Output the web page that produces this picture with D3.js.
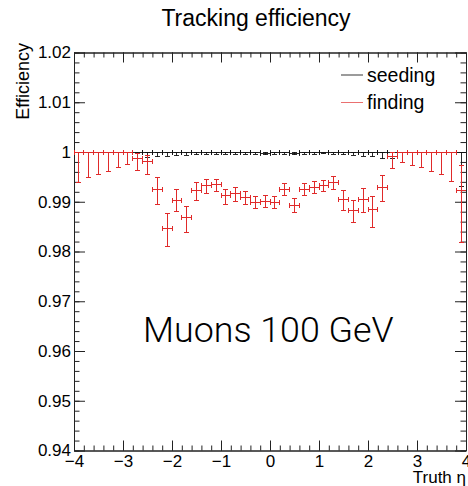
<!DOCTYPE html>
<html>
<head>
    <title>Tracking efficiency</title>
    <meta charset="UTF-8">
    <script src="https://cdn.jsdelivr.net/npm/d3@7"></script>
    <style>
        body { margin: 0; background: #fff; }
        text { font-family: "Liberation Sans", Arial, sans-serif; }
    </style>
</head>
<body>
    <script>
        // bin centres in truth eta (bin width 0.2)
        var etaBins = [-3.9, -3.7, -3.5, -3.3, -3.1, -2.9, -2.7, -2.5, -2.3, -2.1,
                       -1.9, -1.7, -1.5, -1.3, -1.1, -0.9, -0.7, -0.5, -0.3, -0.1,
                        0.1,  0.3,  0.5,  0.7,  0.9,  1.1,  1.3,  1.5,  1.7,  1.9,
                        2.1,  2.3,  2.5,  2.7,  2.9,  3.1,  3.3,  3.5,  3.7,  3.9]
        var binHalfWidth = 0.1

        // seeding
        var seedEff = [1, 1, 1, 1, 1, 1, 1, 1, 1, 1,
                       1, 1, 1, 1, 0.9999, 0.9999, 0.9998, 0.9998, 0.9998, 0.9997,
                       0.9998, 0.9998, 0.9997, 0.9998, 0.9999, 1, 1, 1, 1, 1,
                       1, 1, 1, 1, 1, 1, 1, 1, 1, 1]
        var seedErrLow = [0.0062, 0.0051, 0.0046, 0.0039, 0.0032, 0.0026, 0.0013, 0.0011, 0.0010, 0.0009,
                          0.0008, 0.0007, 0.0006, 0.0005, 0.0004, 0.0004, 0.0003, 0.0003, 0.0003, 0.0003,
                          0.0003, 0.0003, 0.0003, 0.0003, 0.0004, 0.0004, 0.0005, 0.0006, 0.0007, 0.0009,
                          0.0010, 0.0014, 0.0013, 0.0022, 0.0027, 0.0031, 0.0039, 0.0046, 0.0059, 0.0070]
        var seedErrHigh = [0, 0, 0, 0, 0, 0, 0, 0, 0, 0,
                           0, 0, 0, 0, 0.0001, 0.0001, 0.0002, 0.0002, 0.0002, 0.0002,
                           0.0002, 0.0002, 0.0002, 0.0002, 0.0001, 0, 0, 0, 0, 0,
                           0, 0, 0, 0, 0, 0, 0, 0, 0, 0]

        // finding
        var findEff = [1, 1, 1, 1, 1, 1, 0.9986, 0.9980, 0.9925, 0.9846,
                       0.9903, 0.9868, 0.9923, 0.9932, 0.9934, 0.9912, 0.9916, 0.9908, 0.9899, 0.9900,
                       0.9898, 0.9925, 0.9893, 0.9925, 0.9929, 0.9932, 0.9939, 0.9904, 0.9882, 0.9904,
                       0.9884, 0.9929, 0.9990, 1, 1, 1, 1, 1, 1, 0.9922]
        var findErrLow = [0.0062, 0.0051, 0.0046, 0.0039, 0.0032, 0.0026, 0.0024, 0.0025, 0.0030, 0.0036,
                          0.0022, 0.0029, 0.0021, 0.0015, 0.0013, 0.0017, 0.0015, 0.0014, 0.0013, 0.0012,
                          0.0012, 0.0012, 0.0015, 0.0012, 0.0013, 0.0012, 0.0014, 0.0021, 0.0024, 0.0025,
                          0.0036, 0.0029, 0.0024, 0.0022, 0.0027, 0.0031, 0.0039, 0.0046, 0.0059, 0.0103]
        var findErrHigh = [0, 0, 0, 0, 0, 0, 0.0011, 0.0013, 0.0024, 0.0031,
                           0.0021, 0.0023, 0.0015, 0.0013, 0.0011, 0.0013, 0.0013, 0.0013, 0.0012, 0.0012,
                           0.0012, 0.0011, 0.0013, 0.0011, 0.0011, 0.0011, 0.0012, 0.0019, 0.0021, 0.0022,
                           0.0027, 0.0023, 0.0010, 0, 0, 0, 0, 0, 0, 0.0051]

        var xTicks = [-4, -3, -2, -1, 0, 1, 2, 3, 4]
        var yTicks = [0.94, 0.95, 0.96, 0.97, 0.98, 0.99, 1, 1.01, 1.02]

        var W = 468, H = 486
        var fr = { left: 74, right: 466, top: 52.5, bottom: 450.5 }

        var svg = d3.select('body')
            .append('svg')
            .attr('width', W)
            .attr('height', H)

        var x = d3.scaleLinear().domain([-4, 4]).range([fr.left, fr.right])
        var y = d3.scaleLinear().domain([0.94, 1.02]).range([fr.bottom, fr.top])

        svg.append('defs').append('clipPath').attr('id', 'frame')
            .append('rect')
            .attr('x', fr.left).attr('y', fr.top)
            .attr('width', fr.right - fr.left).attr('height', fr.bottom - fr.top)

        // title
        svg.append('text')
            .attr('x', 256).attr('y', 26)
            .attr('text-anchor', 'middle')
            .style('font-size', '23px')
            .text('Tracking efficiency')

        // axes, ticks pointing inwards like ROOT
        var xMinor = d3.range(-4, 4.001, 0.2)
        var yMinor = d3.range(0.94, 1.0201, 0.002)

        function styleAxis(g) {
            g.select('.domain').attr('stroke', '#222')
            g.selectAll('.tick line').attr('stroke', '#222')
            g.selectAll('.tick text').attr('fill', '#000')
                .style('font-family', '"Liberation Sans", Arial, sans-serif')
                .style('font-size', '17px')
        }

        var fmtX = function(d){ return d < 0 ? '\u2212' + (-d) : '' + d }
        var fmtY = function(d){ return '' + (+d.toFixed(2)) }

        svg.append('g').attr('transform', 'translate(0,' + fr.bottom + ')')
            .call(d3.axisBottom(x).tickValues(xMinor).tickSize(-5).tickFormat('').tickSizeOuter(0))
            .call(styleAxis)
        svg.append('g').attr('transform', 'translate(0,' + fr.bottom + ')')
            .call(d3.axisBottom(x).tickValues(xTicks).tickSize(-10).tickPadding(4).tickFormat(fmtX).tickSizeOuter(0))
            .call(styleAxis)
        svg.append('g').attr('transform', 'translate(0,' + fr.top + ')')
            .call(d3.axisTop(x).tickValues(xMinor).tickSize(-5).tickFormat('').tickSizeOuter(0))
            .call(styleAxis)
        svg.append('g').attr('transform', 'translate(0,' + fr.top + ')')
            .call(d3.axisTop(x).tickValues(xTicks).tickSize(-10).tickFormat('').tickSizeOuter(0))
            .call(styleAxis)

        svg.append('g').attr('transform', 'translate(' + fr.left + ',0)')
            .call(d3.axisLeft(y).tickValues(yMinor).tickSize(-5.5).tickFormat('').tickSizeOuter(0))
            .call(styleAxis)
        svg.append('g').attr('transform', 'translate(' + fr.left + ',0)')
            .call(d3.axisLeft(y).tickValues(yTicks).tickSize(-11).tickPadding(3).tickFormat(fmtY).tickSizeOuter(0))
            .call(styleAxis)
        svg.append('g').attr('transform', 'translate(' + fr.right + ',0)')
            .call(d3.axisRight(y).tickValues(yMinor).tickSize(-5.5).tickFormat('').tickSizeOuter(0))
            .call(styleAxis)
        svg.append('g').attr('transform', 'translate(' + fr.right + ',0)')
            .call(d3.axisRight(y).tickValues(yTicks).tickSize(-11).tickFormat('').tickSizeOuter(0))
            .call(styleAxis)

        // axis titles
        svg.append('text')
            .attr('x', fr.right).attr('y', 483)
            .attr('text-anchor', 'end')
            .style('font-size', '17px')
            .text('Truth \u03b7')
        svg.append('text')
            .attr('transform', 'translate(29,43) rotate(-90)')
            .attr('text-anchor', 'end')
            .style('font-size', '18px')
            .text('Efficiency')

        // error-bar crosses
        function drawSeries(eff, lo, hi, colour, opacity) {
            var data = etaBins.map(function(e, i){
                return { eta: e, eff: eff[i], lo: lo[i], hi: hi[i] }
            })
            var g = svg.append('g')
                .attr('clip-path', 'url(#frame)')
                .attr('stroke', colour)
                .attr('stroke-opacity', opacity)
                .attr('stroke-width', 1)
                .attr('shape-rendering', 'crispEdges')
                .attr('fill', 'none')

            var pts = g.selectAll('g')
                .data(data)
                .enter()
                .append('g')

            pts.append('line')
                .attr('x1', function(d){ return x(d.eta - binHalfWidth) })
                .attr('x2', function(d){ return x(d.eta + binHalfWidth) })
                .attr('y1', function(d){ return y(d.eff) })
                .attr('y2', function(d){ return y(d.eff) })
            pts.append('line')
                .attr('x1', function(d){ return x(d.eta) })
                .attr('x2', function(d){ return x(d.eta) })
                .attr('y1', function(d){ return y(d.eff + d.hi) })
                .attr('y2', function(d){ return y(d.eff - d.lo) })
            // caps on the vertical bar
            pts.append('path')
                .attr('d', function(d){
                    var cx = x(d.eta), c = 2.5
                    return 'M' + (cx - c) + ',' + y(d.eff - d.lo) + 'H' + (cx + c) +
                           'M' + (cx - c) + ',' + y(d.eff + d.hi) + 'H' + (cx + c)
                })
            // caps on the horizontal bar
            pts.append('path')
                .attr('d', function(d){
                    var cy = y(d.eff), c = 2.5
                    return 'M' + x(d.eta - binHalfWidth) + ',' + (cy - c) + 'V' + (cy + c) +
                           'M' + x(d.eta + binHalfWidth) + ',' + (cy - c) + 'V' + (cy + c)
                })
        }

        drawSeries(seedEff, seedErrLow, seedErrHigh, '#111', 0.9)
        drawSeries(findEff, findErrLow, findErrHigh, '#e02a2a', 1)

        // legend
        var legend = [
            { label: 'seeding', colour: '#222', op: 0.9, ly: 75 },
            { label: 'finding', colour: '#e86060', op: 0.9, ly: 102.5 }
        ]
        var lg = svg.selectAll('.legend')
            .data(legend)
            .enter()
            .append('g')
            .attr('class', 'legend')
        lg.append('line')
            .attr('x1', 341).attr('x2', 363)
            .attr('y1', function(d){ return d.ly })
            .attr('y2', function(d){ return d.ly })
            .attr('stroke', function(d){ return d.colour })
            .attr('stroke-opacity', function(d){ return d.op })
        lg.append('text')
            .attr('x', 367)
            .attr('y', function(d){ return d.ly + 6.5 })
            .style('font-size', '19.5px')
            .text(function(d){ return d.label })

        // annotation
        svg.append('text')
            .attr('x', 143).attr('y', 341.5)
            .style('font-family', 'Roboto, "Liberation Sans", sans-serif')
            .style('font-weight', 300)
            .style('font-size', '35.8px')
            .text('Muons 100 GeV')
    </script>
</body>
</html>
